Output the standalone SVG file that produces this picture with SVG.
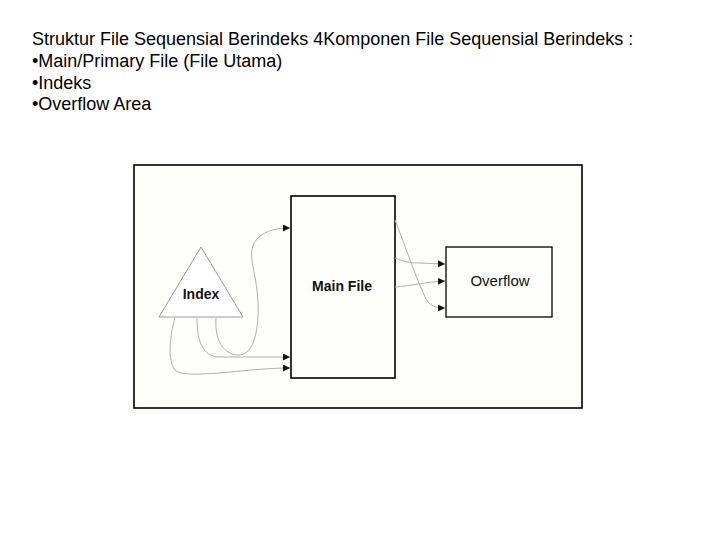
<svg xmlns="http://www.w3.org/2000/svg" width="720" height="540" viewBox="0 0 720 540">
<style>
.t{font-family:"Liberation Sans",Arial,sans-serif;font-size:18px;fill:#000}
.lbl{font-family:"Liberation Sans",Arial,sans-serif;fill:#111}
.box{fill:#fefefb;stroke:#000}
.c{fill:none;stroke:#b0b0b0;stroke-width:1}
</style>
<defs>
<marker id="ah" markerUnits="userSpaceOnUse" markerWidth="8" markerHeight="8" refX="7" refY="3.5" orient="auto">
<path d="M0,0 L7,3.5 L0,7 Z" fill="#111"/>
</marker>
</defs>
<rect width="720" height="540" fill="#fff"/>
<g id="title">
<text class="t" x="32" y="45">Struktur File Sequensial Berindeks 4Komponen File Sequensial Berindeks :</text>
<text class="t" x="32" y="67">•Main/Primary File (File Utama)</text>
<text class="t" x="32" y="89">•Indeks</text>
<text class="t" x="32" y="110">•Overflow Area</text>
</g>
<g id="frame">
<rect x="134" y="165" width="448" height="243" fill="#fefefa" stroke="#000" stroke-width="1.6"/>
</g>
<g id="index">
<polygon points="201,247 159,317 243,317" fill="#fff" stroke="#9a9a9a" stroke-width="1"/>
<text class="lbl" x="201" y="299" font-size="14" font-weight="bold" text-anchor="middle">Index</text>
</g>
<g id="mainfile">
<rect class="box" x="291" y="196" width="104" height="182" stroke-width="1.6"/>
<text class="lbl" x="342" y="291" font-size="14" font-weight="bold" text-anchor="middle">Main File</text>
</g>
<g id="overflow">
<rect class="box" x="446" y="247" width="106" height="70" stroke-width="1.3"/>
<text class="lbl" x="500" y="286" font-size="15" text-anchor="middle">Overflow</text>
</g>
<g id="connectors">
<path class="c" d="M216,318 C214,345 228,356 240,355 C258,353 260,315 257,290 C254,265 246,250 258,238 C266,230 278,228 290,228" marker-end="url(#ah)"/>
<path class="c" d="M197,318 C197,340 202,357 220,357 L290,357" marker-end="url(#ah)"/>
<path class="c" d="M175,318 C170,335 167,360 175,370 C182,376 200,374 220,373 C250,370 270,368 290,368" marker-end="url(#ah)"/>
<path class="c" d="M395,258 C405,262 410,263 420,263 L445,264" marker-end="url(#ah)"/>
<path class="c" d="M395,287 C410,286 425,282 445,281" marker-end="url(#ah)"/>
<path class="c" d="M395,220 C405,245 420,290 428,302 C432,307 438,308 445,308" marker-end="url(#ah)"/>
</g>
</svg>
